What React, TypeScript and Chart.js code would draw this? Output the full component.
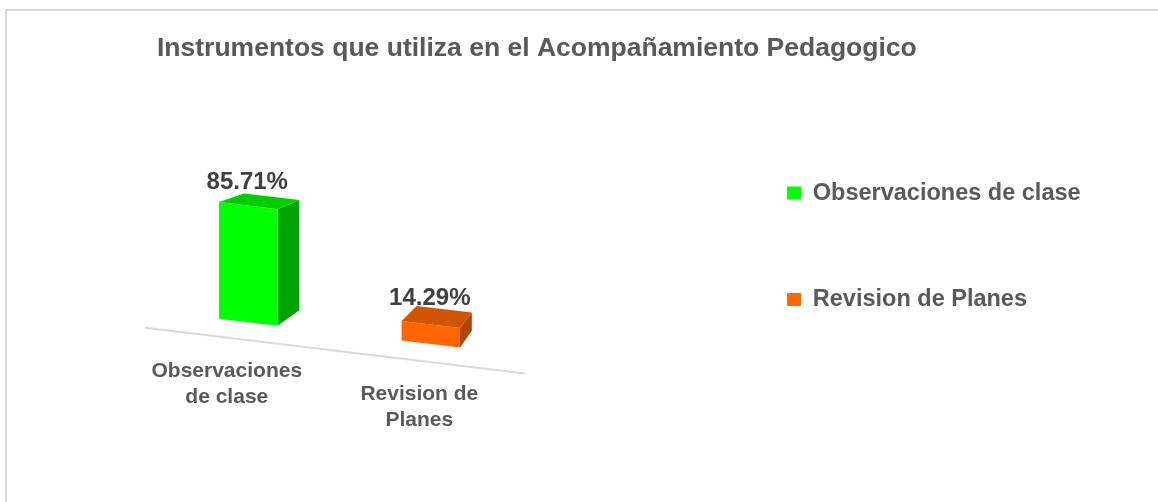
import React, { useEffect, useRef } from "react";
import { Chart, registerables } from "chart.js";

Chart.register(...registerables);

const TITLE = "Instrumentos que utiliza en el Acompañamiento Pedagogico";
const CATEGORIES = ["Observaciones de clase", "Revision de Planes"];
const AXIS_LABEL_LINES = [["Observaciones", "de clase"], ["Revision de", "Planes"]];
const PERCENTAGES = [85.71, 14.29];
const FRONT_COLORS = ["#00FF00", "#FF6600"];
const TOP_COLORS = ["#00CD00", "#D35400"];
const SIDE_COLORS = ["#00A400", "#B04500"];

const FONT = '"Liberation Sans", Arial, Helvetica, sans-serif';
const TEXT_GRAY = "#595959";
const VALUE_GRAY = "#404040";
const FLOOR_GRAY = "#D9D9D9";

const W = 1151;
const H = 491;
const SKEW = 0.12;
const DEPTH = 0.055;

type P = { x: number; y: number };

function vp(ca: any): P {
  return { x: ca.right + 153, y: ca.top - 54 };
}
function skewY(ca: any, x: number, y: number) {
  return y + SKEW * (x - ca.left);
}
function back(ca: any, p: P): P {
  const v = vp(ca);
  return { x: p.x + DEPTH * (v.x - p.x), y: p.y + DEPTH * (v.y - p.y) };
}
function front(ca: any, p: P): P {
  const v = vp(ca);
  return { x: p.x - DEPTH * (v.x - p.x), y: p.y - DEPTH * (v.y - p.y) };
}
function poly(ctx: CanvasRenderingContext2D, pts: P[], color: string) {
  ctx.beginPath();
  ctx.moveTo(pts[0].x, pts[0].y);
  for (let i = 1; i < pts.length; i++) ctx.lineTo(pts[i].x, pts[i].y);
  ctx.closePath();
  ctx.fillStyle = color;
  ctx.fill();
}

const box3d = {
  id: "box3d",
  beforeDatasetDraw() {
    return false;
  },
  afterDraw(chart: any) {
    const { ctx, chartArea: ca } = chart;
    const yScale = chart.scales.y;
    const zero = yScale.getPixelForValue(0);
    const meta = chart.getDatasetMeta(0);
    ctx.save();
    // floor edge
    const q1 = front(ca, { x: ca.left, y: skewY(ca, ca.left, zero) });
    const q2 = front(ca, { x: ca.right, y: skewY(ca, ca.right, zero) });
    const m = (q2.y - q1.y) / (q2.x - q1.x);
    const xa = ca.left - 12;
    const xb = ca.right + 3;
    ctx.strokeStyle = FLOOR_GRAY;
    ctx.lineWidth = 2;
    ctx.beginPath();
    ctx.moveTo(xa, q1.y + m * (xa - q1.x));
    ctx.lineTo(xb, q1.y + m * (xb - q1.x));
    ctx.stroke();

    const labels: any[] = [];
    meta.data.forEach((el: any, i: number) => {
      const { x, y, base, width } = el.getProps(["x", "y", "base", "width"], true);
      const l = x - width / 2;
      const r = x + width / 2;
      const ftl = { x: l, y: skewY(ca, l, y) };
      const ftr = { x: r, y: skewY(ca, r, y) };
      const fbr = { x: r, y: skewY(ca, r, base) };
      const fbl = { x: l, y: skewY(ca, l, base) };
      const btl = back(ca, ftl);
      const btr = back(ca, ftr);
      const bbr = back(ca, fbr);
      poly(ctx, [ftr, btr, bbr, fbr], SIDE_COLORS[i]);
      poly(ctx, [ftl, btl, btr, ftr], TOP_COLORS[i]);
      poly(ctx, [ftl, ftr, fbr, fbl], FRONT_COLORS[i]);
      const ftc = { x, y: skewY(ca, x, y) };
      const btc = back(ca, ftc);
      const q = front(ca, { x, y: skewY(ca, x, base) });
      labels.push({ vx: x - 1, vy: (ftc.y + btc.y) / 2 - 19, qx: q.x + 2, qy: q.y + 34, i });
    });
    ctx.textAlign = "center";
    ctx.textBaseline = "middle";
    labels.forEach((lb) => {
      const val = chart.data.datasets[0].data[lb.i] as number;
      ctx.font = `bold 24px ${FONT}`;
      ctx.fillStyle = VALUE_GRAY;
      ctx.fillText(val.toFixed(2) + "%", lb.vx, lb.vy);
      ctx.font = `bold 21px ${FONT}`;
      ctx.fillStyle = TEXT_GRAY;
      const lines = chart.data.labels[lb.i] as string[];
      lines.forEach((line: string, j: number) => ctx.fillText(line, lb.qx, lb.qy + j * 25.5));
    });
    ctx.restore();
  },
};

export default function App() {
  const ref = useRef<HTMLCanvasElement>(null);
  useEffect(() => {
    const chart = new Chart(ref.current as HTMLCanvasElement, {
      type: "bar",
      data: {
        labels: AXIS_LABEL_LINES,
        datasets: [
          {
            label: "Instrumentos",
            data: PERCENTAGES,
            backgroundColor: FRONT_COLORS,
            categoryPercentage: 1,
            barPercentage: 0.32,
          },
        ],
      },
      options: {
        responsive: false,
        animation: false,
        devicePixelRatio: 1,
        layout: { padding: { left: 150, right: 67.4, top: 0, bottom: 10 } },
        scales: {
          x: { type: "category", display: false },
          y: {
            position: "right",
            min: -133,
            max: 156.6,
            ticks: { display: false },
            grid: { display: false },
            border: { display: false },
            afterFit: (s: any) => {
              s.width = 182;
            },
          },
        },
        plugins: {
          title: {
            display: true,
            text: TITLE,
            align: "start",
            color: TEXT_GRAY,
            font: { family: FONT, size: 26.5, weight: "bold" },
            padding: { top: 21.5, bottom: 34 },
          },
          legend: {
            position: "right",
            align: "start",
            fullSize: false,
            maxWidth: 600,
            labels: {
              boxWidth: 14,
              boxHeight: 13,
              padding: 83,
              color: TEXT_GRAY,
              font: { family: FONT, size: 23.5, weight: "bold" },
              generateLabels: () =>
                CATEGORIES.map((c, i) => ({
                  text: c,
                  fillStyle: FRONT_COLORS[i],
                  strokeStyle: FRONT_COLORS[i],
                  lineWidth: 0,
                  hidden: false,
                  index: i,
                  fontColor: TEXT_GRAY,
                })),
            },
          },
          tooltip: { enabled: false },
        },
      } as any,
      plugins: [box3d],
    });
    return () => chart.destroy();
  }, []);
  return (
    <div
      style={{
        position: "absolute",
        left: 5,
        top: 9,
        width: W,
        height: H,
        borderLeft: "2px solid #D9D9D9",
        borderTop: "2px solid #D9D9D9",
        background: "#fff",
      }}
    >
      <canvas ref={ref} width={W} height={H} style={{ display: "block", width: W, height: H }} />
    </div>
  );
}
